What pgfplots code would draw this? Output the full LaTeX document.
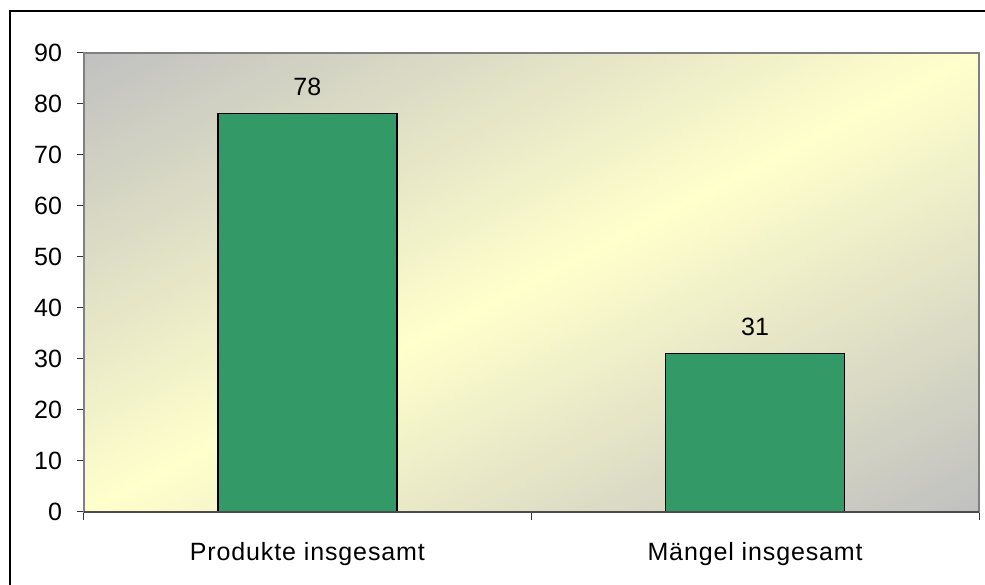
\documentclass[border=0pt]{standalone}
\usepackage{fontspec}
\setmainfont{Liberation Sans}
\newfontfamily\catfont[LetterSpace=3.5]{Liberation Sans}
\usepackage{pgfplots}
\pgfplotsset{compat=1.18}
\definecolor{bargreen}{HTML}{339966}
\definecolor{bggray}{HTML}{C0C0C0}
\definecolor{bgyellow}{HTML}{FFFFCC}
\definecolor{bordergray}{HTML}{808080}
\begin{document}
\begin{tikzpicture}[x=1pt,y=1pt]
\useasboundingbox (0,0) rectangle (985,585);
\fill[white] (0,0) rectangle (985,585);
\draw[line width=2pt] (10,-5) -- (10,574) -- (990,574);
\begin{scope}
  \clip (83.5,73.3) rectangle (979,532.5);
  \begin{scope}[transform canvas={cm={8.955,0,8.955,4.592,(83.5,73.3)}}]
    \shade[left color=bggray, right color=bggray, middle color=bgyellow] (-100,0) rectangle (100,100);
  \end{scope}
\end{scope}
\begin{axis}[
  at={(83.5pt,73.3pt)}, anchor=south west,
  width=895.5pt, height=459.2pt, scale only axis,
  ybar, bar width=0.4,
  xmin=-0.5, xmax=1.5, ymin=0, ymax=90,
  ytick={0,10,...,90},
  xtick={0,1}, xticklabels={Produkte insgesamt, Mängel insgesamt},
  minor xtick={-0.5,0.5,1.5},
  xtick pos=bottom, ytick pos=left,
  major x tick style={draw=none},
  tick align=outside, major tick length=7pt, minor tick length=8pt,
  tick style={black!80, line width=1pt},
  axis line style={bordergray, line width=2pt},
  /pgf/number format/assume math mode=true,
  y tick label style={font=\fontsize{25}{28}\selectfont, xshift=-11pt},
  x tick label style={font=\fontsize{25}{28}\selectfont\catfont, yshift=-20pt},
  nodes near coords,
  every node near coord/.append style={font=\fontsize{25}{28}\selectfont, anchor=south, inner sep=0pt, yshift=17pt, text=black},
  clip=false,
]
\addplot[fill=bargreen, draw=black, line width=1.5pt] coordinates {(0,78) (1,31)};
\draw[color=black!70, line width=2pt] (rel axis cs:0,0) -- (rel axis cs:1,0);
\end{axis}
\end{tikzpicture}
\end{document}
